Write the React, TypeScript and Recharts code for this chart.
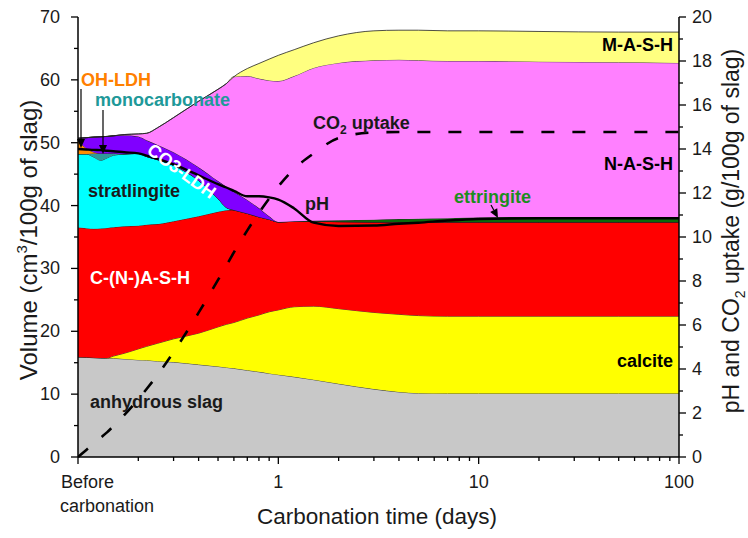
import { ComposedChart, Area, Line, XAxis, YAxis } from 'recharts';

// carbonation time (days); 0.1 stands for "before carbonation"
const days = [0.1, 0.11, 0.12, 0.13, 0.14, 0.15, 0.17, 0.2, 0.22, 0.25, 0.3, 0.4, 0.5, 0.55, 0.6, 0.7, 0.8, 0.9, 1, 1.2, 1.5, 2, 3, 4, 5, 7, 10, 20, 50, 100];

// phase volumes (cm3/100g of slag), stacked bottom -> top
const slag = [15.9, 15.85, 15.8, 15.75, 15.72, 15.7, 15.6, 15.45, 15.4, 15.25, 15.1, 14.7, 14.4, 14.25, 14.1, 13.8, 13.55, 13.3, 13.1, 12.75, 12.3, 11.65, 10.8, 10.35, 10.15, 10.1, 10.1, 10.1, 10.1, 10.1];
const calcite = [0, 0, 0, 0, 0.03, 0.35, 0.9, 1.75, 2.2, 2.85, 3.7, 5.0, 6.3, 6.85, 7.3, 8.3, 9.05, 9.8, 10.3, 11.15, 11.7, 11.95, 12.2, 12.35, 12.35, 12.3, 12.3, 12.3, 12.3, 12.3];
const cnash = [20.6, 20.55, 20.5, 20.6, 20.7, 20.5, 20.2, 19.6, 19.35, 18.95, 18.7, 18.6, 18.3, 18.15, 17.9, 16.65, 15.6, 14.7, 14.0, 13.6, 13.5, 13.85, 14.4, 14.7, 14.9, 15.0, 15.0, 15.0, 15.0, 15.0];
const stratlingite = [11.7, 11.8, 11.4, 10.85, 11.15, 11.45, 11.5, 11.5, 10.85, 10.25, 8.9, 5.7, 2.1, 0.45, 0, 0, 0, 0, 0, 0, 0, 0, 0, 0, 0, 0, 0, 0, 0, 0];
const monocarbonate = [0, 0, 0.6, 1.1, 0.7, 0.3, 0, 0, 0, 0, 0, 0, 0, 0, 0, 0, 0, 0, 0, 0, 0, 0, 0, 0, 0, 0, 0, 0, 0, 0];
const ohLdh = [2.1, 0.9, 0.2, 0, 0, 0, 0, 0, 0, 0, 0, 0, 0, 0, 0, 0, 0, 0, 0, 0, 0, 0, 0, 0, 0, 0, 0, 0, 0, 0];
const co3Ldh = [0.4, 1.7, 2.4, 2.65, 2.7, 2.8, 3.0, 2.7, 2.6, 2.35, 2.1, 2.1, 2.8, 3.3, 2.9, 2.15, 1.4, 0.5, 0, 0, 0, 0, 0, 0, 0, 0, 0, 0, 0, 0];
const ettringite = [0, 0, 0, 0, 0, 0, 0, 0, 0, 0, 0, 0, 0, 0, 0, 0, 0, 0, 0, 0, 0.1, 0.2, 0.35, 0.45, 0.5, 0.6, 0.7, 0.8, 0.8, 0.8];
const nash = [0, 0, 0, 0, 0, 0, 0.1, 0.4, 1.1, 2.75, 5.5, 10.5, 14.6, 16.4, 18.3, 19.7, 20.6, 21.6, 22.4, 23.1, 24.3, 25.05, 25.35, 25.35, 25.2, 25.0, 24.9, 24.7, 24.6, 24.5];
const mash = [0, 0, 0, 0, 0, 0, 0, 0, 0, 0, 0, 0, 0, 0, 0, 1.2, 2.4, 3.4, 4.1, 4.2, 4.0, 4.3, 4.7, 4.7, 4.8, 4.8, 4.8, 4.8, 4.8, 4.9];

// right axis
const pH = [14.0, 13.98, 13.96, 13.95, 13.92, 13.9, 13.85, 13.8, 13.7, 13.55, 13.3, 12.8, 12.4, 12.25, 12.1, 11.85, 11.85, 11.8, 11.7, 11.3, 10.65, 10.5, 10.52, 10.6, 10.65, 10.75, 10.82, 10.85, 10.85, 10.85];
const co2 = [0, 0.32, 0.61, 0.88, 1.13, 1.4, 1.9, 2.63, 3.09, 3.74, 4.77, 6.56, 8.05, 8.7, 9.3, 10.3, 11.1, 11.75, 12.3, 13.1, 13.8, 14.5, 14.75, 14.77, 14.77, 14.77, 14.77, 14.77, 14.77, 14.77];

const xMajor = [0.1, 1, 10, 100];
const xTicks = [0.1, 0.2, 0.3, 0.4, 0.5, 0.6, 0.7, 0.8, 0.9, 1, 2, 3, 4, 5, 6, 7, 8, 9, 10, 20, 30, 40, 50, 60, 70, 80, 90, 100];
const leftTicks = [0, 5, 10, 15, 20, 25, 30, 35, 40, 45, 50, 55, 60, 65, 70];
const rightTicks = [0, 1, 2, 3, 4, 5, 6, 7, 8, 9, 10, 11, 12, 13, 14, 15, 16, 17, 18, 19, 20];

const data = days.map((t, i) => ({
  t,
  slag: slag[i],
  calcite: calcite[i],
  cnash: cnash[i],
  stratlingite: stratlingite[i],
  monocarbonate: monocarbonate[i],
  ohLdh: ohLdh[i],
  co3Ldh: co3Ldh[i],
  ettringite: ettringite[i],
  nash: nash[i],
  mash: mash[i],
  pH: pH[i],
  co2: co2[i],
}));

const layers = [
  { key: 'slag', fill: '#C8C8C8' },
  { key: 'calcite', fill: '#FFFF00' },
  { key: 'cnash', fill: '#FF0000' },
  { key: 'stratlingite', fill: '#00FFFF' },
  { key: 'monocarbonate', fill: '#2E9A9A' },
  { key: 'ohLdh', fill: '#FF8C00' },
  { key: 'co3Ldh', fill: '#8000FF' },
  { key: 'ettringite', fill: '#0A6A0A' },
  { key: 'nash', fill: '#FF80FF' },
  { key: 'mash', fill: '#FFFF80' },
];

const FONT = '"Liberation Sans", Arial, sans-serif';
const INK = '#1a1a1a';

const XTick = ({ x, y, payload }: any) => {
  const v = payload.value;
  const major = xMajor.includes(v);
  return (
    <g>
      <line x1={x} x2={x} y1={y} y2={y + (major ? 7 : 4)} stroke="#000" strokeWidth={1.3} />
      {major && v === 0.1 && (
        <text x={x - 17} y={y + 31} fontSize={18} fill={INK} fontFamily={FONT}>
          <tspan x={x - 17}>Before</tspan>
          <tspan x={x - 18} dy={24}>carbonation</tspan>
        </text>
      )}
      {major && v !== 0.1 && (
        <text x={x} y={y + 31} fontSize={18} fill={INK} textAnchor="middle" fontFamily={FONT}>{v}</text>
      )}
    </g>
  );
};

const LeftTick = ({ x, y, payload }: any) => {
  const v = payload.value;
  const major = v % 10 === 0;
  return (
    <g>
      <line x1={x} x2={x - (major ? 7 : 4)} y1={y} y2={y} stroke="#000" strokeWidth={1.3} />
      {major && (
        <text x={x - 18} y={y} dy={6} fontSize={18} fill={INK} textAnchor="end" fontFamily={FONT}>{v}</text>
      )}
    </g>
  );
};

const RightTick = ({ x, y, payload }: any) => {
  const v = payload.value;
  const major = v % 2 === 0;
  return (
    <g>
      <line x1={x} x2={x + (major ? 7 : 4)} y1={y} y2={y} stroke="#000" strokeWidth={1.3} />
      {major && (
        <text x={x + 13} y={y} dy={6} fontSize={18} fill={INK} textAnchor="start" fontFamily={FONT}>{v}</text>
      )}
    </g>
  );
};

const Arrow = ({ x1, y1, x2, y2 }: { x1: number; y1: number; x2: number; y2: number }) => {
  const a = Math.atan2(y2 - y1, x2 - x1);
  const len = 9;
  const w = 4;
  const bx = x2 - len * Math.cos(a);
  const by = y2 - len * Math.sin(a);
  const px = -Math.sin(a) * w;
  const py = Math.cos(a) * w;
  return (
    <g>
      <line x1={x1} y1={y1} x2={bx} y2={by} stroke="#000" strokeWidth={1.2} />
      <polygon points={`${x2},${y2} ${bx + px},${by + py} ${bx - px},${by - py}`} fill="#000" />
    </g>
  );
};

export default function App() {
  const lbl = { fontFamily: FONT, fontWeight: 700, fontSize: 18 } as const;
  return (
    <div style={{ position: 'absolute', left: 0, top: 0, width: 748, height: 538, background: '#fff' }}>
      <ComposedChart width={748} height={538} data={data} margin={{ top: 17, right: 0, bottom: 0, left: 0 }}>
        <XAxis
          dataKey="t"
          type="number"
          scale="log"
          domain={[0.1, 100]}
          allowDataOverflow
          ticks={xTicks}
          interval={0}
          height={81}
          tickSize={0}
          tickMargin={0}
          tick={<XTick />}
          axisLine={{ stroke: '#000', strokeWidth: 1.5 }}
        />
        <YAxis
          yAxisId="left"
          orientation="left"
          domain={[0, 70]}
          ticks={leftTicks}
          interval={0}
          width={78}
          tickSize={0}
          tickMargin={0}
          tick={<LeftTick />}
          axisLine={{ stroke: '#000', strokeWidth: 1.5 }}
        />
        <YAxis
          yAxisId="right"
          orientation="right"
          domain={[0, 20]}
          ticks={rightTicks}
          interval={0}
          width={69}
          tickSize={0}
          tickMargin={0}
          tick={<RightTick />}
          axisLine={{ stroke: '#000', strokeWidth: 1.5 }}
        />
        {layers.map((l) => (
          <Area
            key={l.key}
            yAxisId="left"
            dataKey={l.key}
            stackId="vol"
            type="monotone"
            fill={l.fill}
            fillOpacity={1}
            stroke="#222"
            strokeWidth={0.8}
            dot={false}
            activeDot={false}
            isAnimationActive={false}
          />
        ))}
        <Line yAxisId="right" dataKey="co2" type="monotone" stroke="#000" strokeWidth={2.6} strokeDasharray="13 18" dot={false} activeDot={false} isAnimationActive={false} />
        <Line yAxisId="right" dataKey="pH" type="monotone" stroke="#000" strokeWidth={2.4} dot={false} activeDot={false} isAnimationActive={false} />
      </ComposedChart>

      <svg width={748} height={538} style={{ position: 'absolute', left: 0, top: 0, pointerEvents: 'none' }}>
        <g style={lbl}>
          <text x={81} y={86} fill="#FF8000">OH-LDH</text>
          <text x={95} y={106} fill="#1E9999">monocarbonate</text>
          <text x={673} y={51} fill="#000" textAnchor="end">M-A-S-H</text>
          <text x={673} y={170} fill="#000" textAnchor="end">N-A-S-H</text>
          <text x={673} y={367} fill="#000" textAnchor="end">calcite</text>
          <text x={90} y={408} fill={INK}>anhydrous slag</text>
          <text x={90} y={284} fill="#fff">C-(N-)A-S-H</text>
          <text x={88} y={197} fill={INK}>stratlingite</text>
          <text x={0} y={0} fill="#fff" textAnchor="middle" transform="translate(178,176) rotate(36)">CO3-LDH</text>
          <text x={305} y={210} fill={INK}>pH</text>
          <text x={454} y={203} fill="#1E8C1E">ettringite</text>
          <text x={313} y={129} fill={INK}>
            CO<tspan fontSize={12} dy={5}>2</tspan><tspan dy={-5}> uptake</tspan>
          </text>
        </g>
        <Arrow x1={81} y1={89} x2={81} y2={148} />
        <Arrow x1={103} y1={110} x2={103} y2={154} />
        <Arrow x1={491} y1={205} x2={498} y2={218} />
        <g style={{ fontFamily: FONT }} fill={INK}>
          <text x={377} y={524} fontSize={22.5} textAnchor="middle">Carbonation time (days)</text>
          <text x={0} y={0} fontSize={24} textAnchor="middle" transform="translate(37,240) rotate(-90)">
            Volume (cm<tspan fontSize={15} dy={-10}>3</tspan><tspan dy={10}>/100g of slag)</tspan>
          </text>
          <text x={0} y={0} fontSize={23} textAnchor="middle" transform="translate(739,231) rotate(-90)">
            pH and CO<tspan fontSize={14} dy={6}>2</tspan><tspan dy={-6}> uptake (g/100g of slag)</tspan>
          </text>
        </g>
      </svg>
    </div>
  );
}
